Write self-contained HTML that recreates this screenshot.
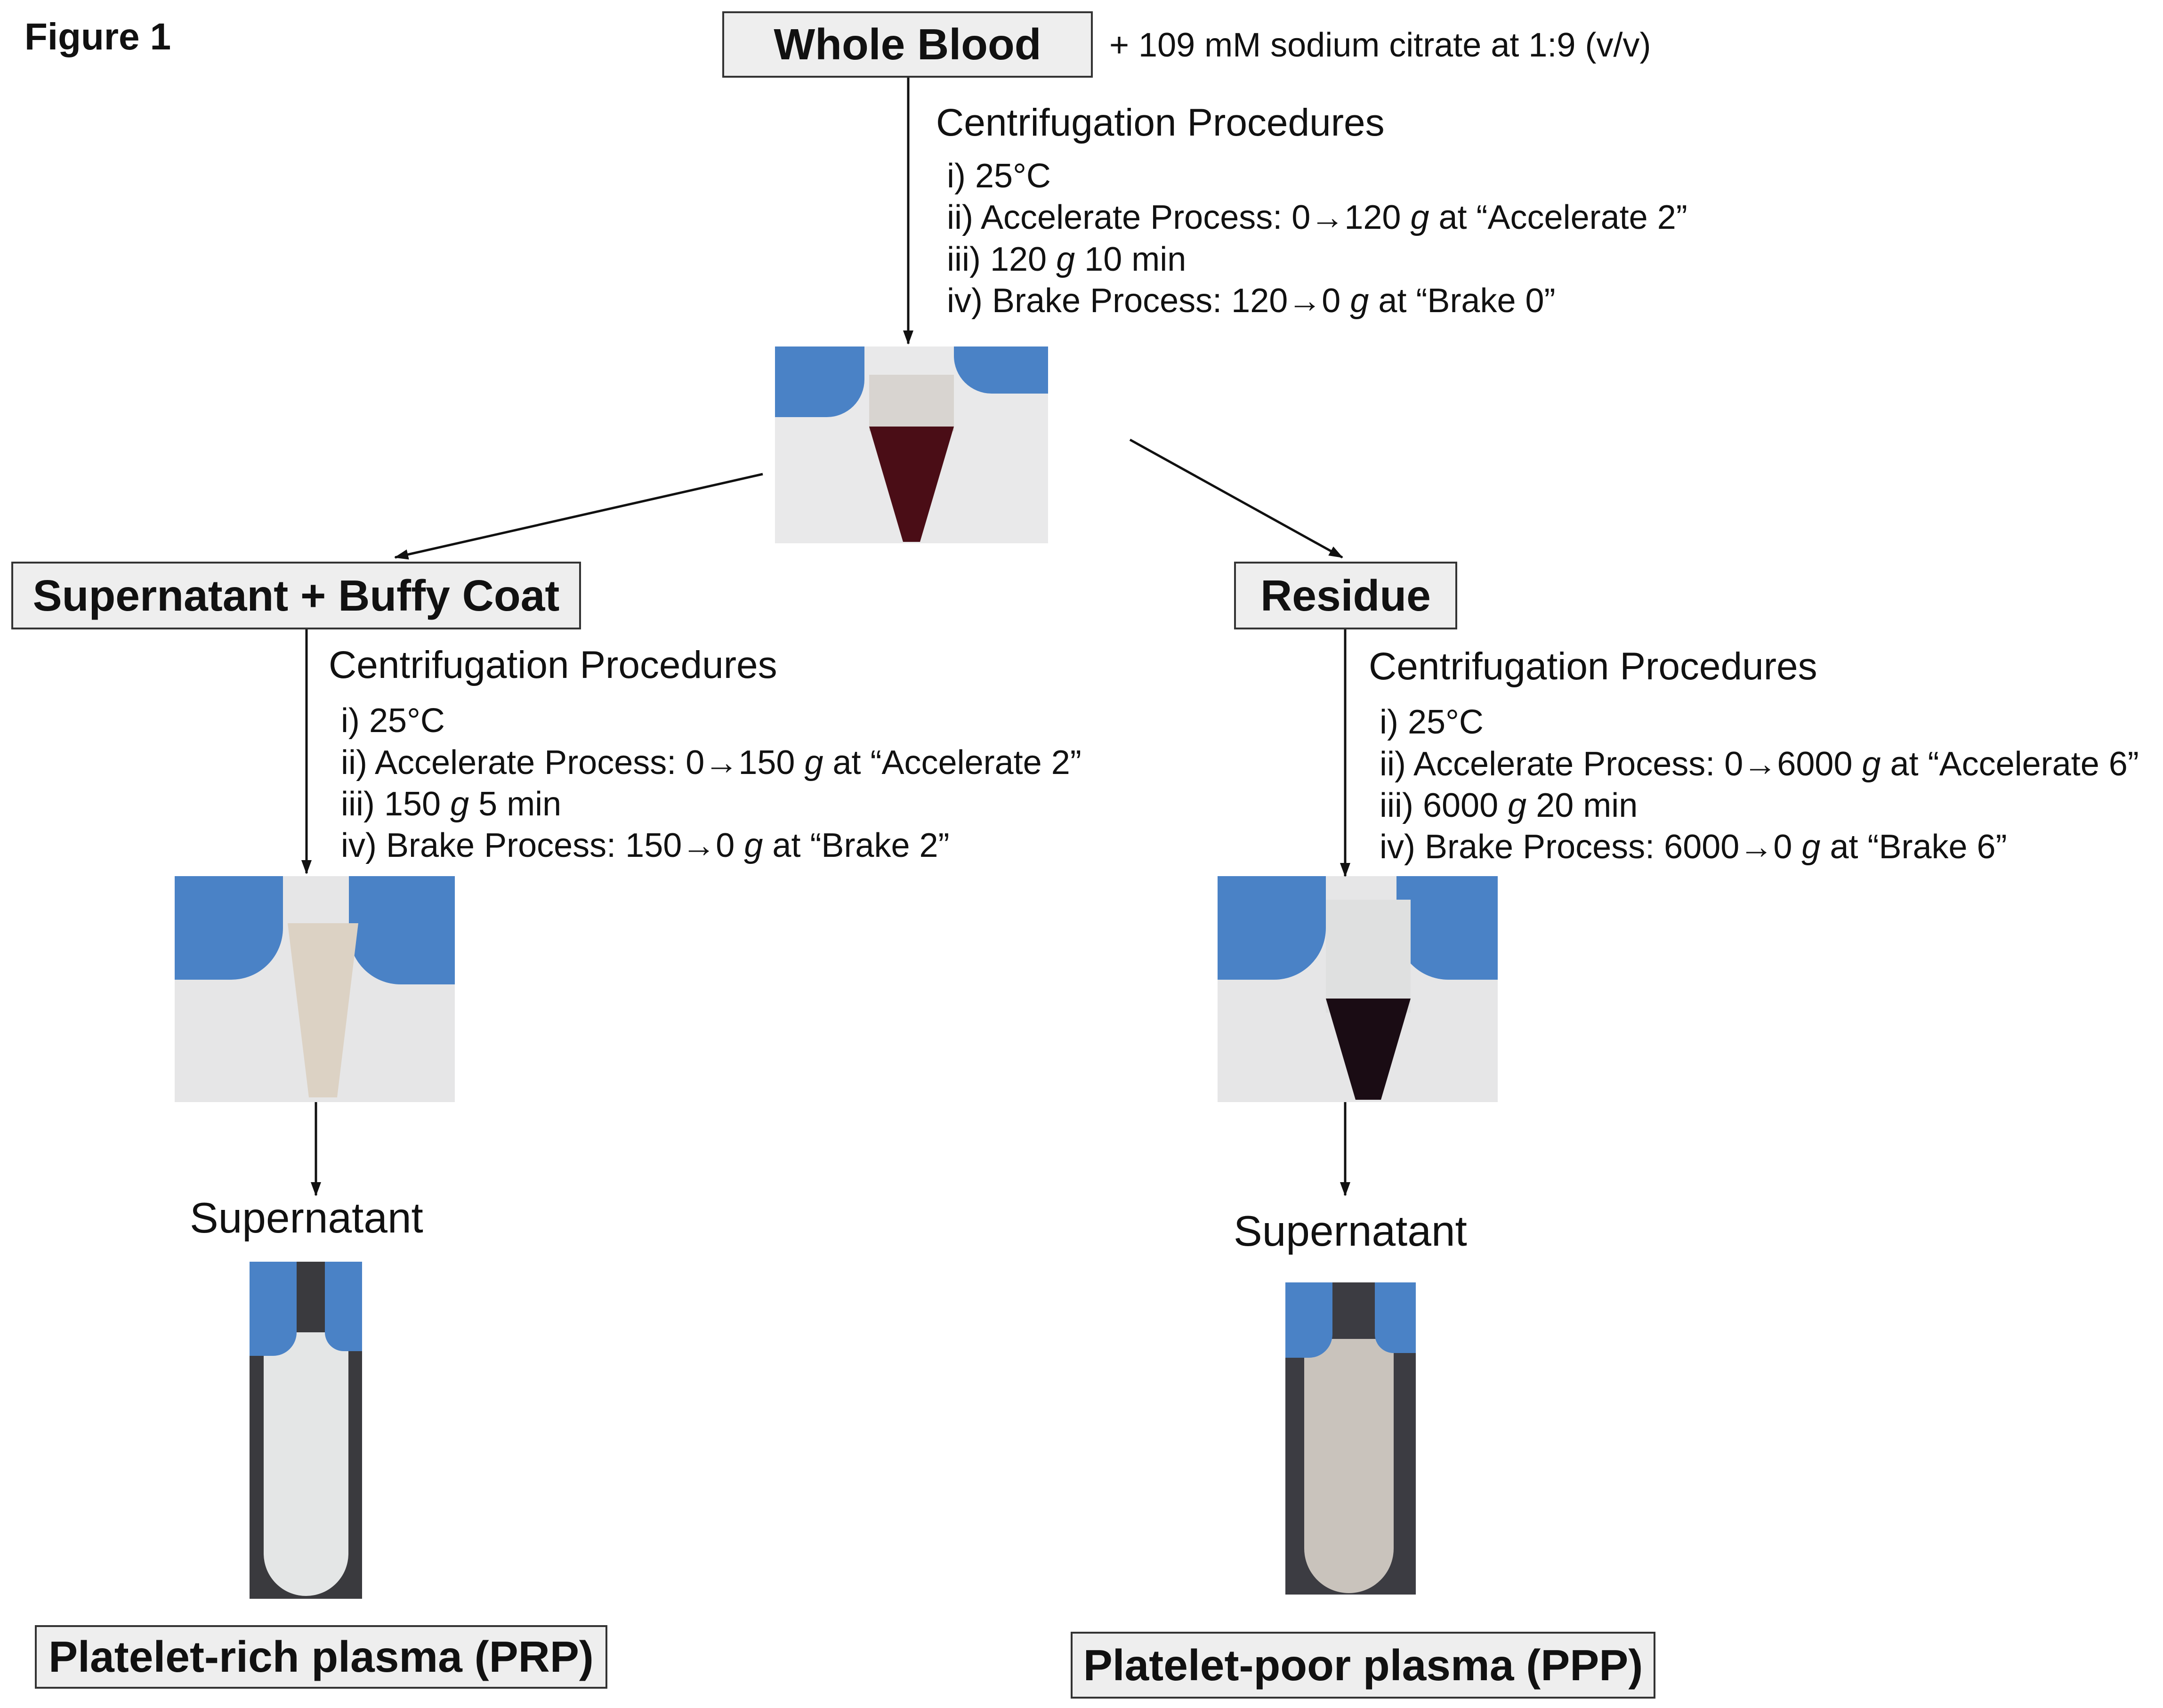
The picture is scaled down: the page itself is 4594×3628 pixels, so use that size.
<!DOCTYPE html>
<html><head><meta charset="utf-8"><style>
body{margin:0;width:4594px;height:3628px;background:#fff;position:relative;overflow:hidden;font-family:"Liberation Sans",sans-serif;color:#111}
.a{position:absolute;white-space:nowrap}
.box{position:absolute;background:#eeeeee;border:4px solid #333;box-sizing:border-box;display:flex;align-items:center;justify-content:center;font-weight:bold;font-size:93px}
.t{font-size:72px;line-height:72px}
.h{font-size:82px;line-height:82px}
.s{font-size:91px;line-height:91px}
.ph{position:absolute;overflow:hidden}
</style></head><body>
<div class="a" style="left:52px;top:32px;font-size:80px;font-weight:bold">Figure 1</div>

<div class="box" style="left:1534px;top:24px;width:787px;height:141px">Whole Blood</div>
<div class="a t" style="left:2356px;top:60px">+ 109 mM sodium citrate at 1:9 (v/v)</div>

<div class="a h" style="left:1988px;top:220px">Centrifugation Procedures</div>
<div class="a t" style="left:2011px;top:338px">i) 25°C</div>
<div class="a t" style="left:2011px;top:426px">ii) Accelerate Process: 0→120 <i>g</i> at “Accelerate 2”</div>
<div class="a t" style="left:2011px;top:515px">iii) 120 <i>g</i> 10 min</div>
<div class="a t" style="left:2011px;top:603px">iv) Brake Process: 120→0 <i>g</i> at “Brake 0”</div>

<div class="box" style="left:24px;top:1193px;width:1210px;height:144px">Supernatant + Buffy Coat</div>
<div class="box" style="left:2621px;top:1193px;width:474px;height:144px">Residue</div>

<div class="a h" style="left:698px;top:1372px">Centrifugation Procedures</div>
<div class="a t" style="left:724px;top:1495px">i) 25°C</div>
<div class="a t" style="left:724px;top:1584px">ii) Accelerate Process: 0→150 <i>g</i> at “Accelerate 2”</div>
<div class="a t" style="left:724px;top:1672px">iii) 150 <i>g</i> 5 min</div>
<div class="a t" style="left:724px;top:1760px">iv) Brake Process: 150→0 <i>g</i> at “Brake 2”</div>

<div class="a h" style="left:2907px;top:1375px">Centrifugation Procedures</div>
<div class="a t" style="left:2930px;top:1498px">i) 25°C</div>
<div class="a t" style="left:2930px;top:1587px">ii) Accelerate Process: 0→6000 <i>g</i> at “Accelerate 6”</div>
<div class="a t" style="left:2930px;top:1675px">iii) 6000 <i>g</i> 20 min</div>
<div class="a t" style="left:2930px;top:1763px">iv) Brake Process: 6000→0 <i>g</i> at “Brake 6”</div>

<div class="a s" style="left:403px;top:2542px">Supernatant</div>
<div class="a s" style="left:2620px;top:2570px">Supernatant</div>

<div class="box" style="left:74px;top:3452px;width:1216px;height:135px">Platelet-rich plasma (PRP)</div>
<div class="box" style="left:2274px;top:3466px;width:1242px;height:142px">Platelet-poor plasma (PPP)</div>

<!-- photos -->
<div class="ph" style="left:1646px;top:736px;width:580px;height:418px;background:#e9e9ea">
 <div class="a" style="left:0;top:0;width:190px;height:150px;background:#4a82c6;border-radius:0 0 80px 0"></div>
 <div class="a" style="left:380px;top:0;width:200px;height:100px;background:#4a82c6;border-radius:0 0 0 80px"></div>
 <div class="a" style="left:200px;top:60px;width:180px;height:120px;background:#d8d4d0"></div>
 <div class="a" style="left:200px;top:170px;width:180px;height:245px;background:#4a0d16;clip-path:polygon(0 0,100% 0,60% 100%,40% 100%)"></div>
</div>
<div class="ph" style="left:371px;top:1861px;width:595px;height:480px;background:#e6e6e7">
 <div class="a" style="left:0;top:0;width:230px;height:220px;background:#4a82c6;border-radius:0 0 110px 0"></div>
 <div class="a" style="left:370px;top:0;width:225px;height:230px;background:#4a82c6;border-radius:0 0 0 110px"></div>
 <div class="a" style="left:240px;top:100px;width:150px;height:370px;background:#dcd2c4;clip-path:polygon(0 0,100% 0,70% 100%,30% 100%)"></div>
</div>
<div class="ph" style="left:2586px;top:1861px;width:595px;height:480px;background:#e6e6e7">
 <div class="a" style="left:0;top:0;width:230px;height:220px;background:#4a82c6;border-radius:0 0 110px 0"></div>
 <div class="a" style="left:380px;top:0;width:215px;height:220px;background:#4a82c6;border-radius:0 0 0 110px"></div>
 <div class="a" style="left:230px;top:50px;width:180px;height:240px;background:#dfe0e0"></div>
 <div class="a" style="left:230px;top:260px;width:180px;height:215px;background:#1a0c14;clip-path:polygon(0 0,100% 0,65% 100%,35% 100%)"></div>
</div>
<div class="ph" style="left:530px;top:2680px;width:239px;height:716px;background:#3a3a3e">
 <div class="a" style="left:30px;top:150px;width:180px;height:560px;background:#e4e6e6;border-radius:0 0 90px 90px"></div>
 <div class="a" style="left:0;top:0;width:100px;height:200px;background:#4a82c6;border-radius:0 0 50px 0"></div>
 <div class="a" style="left:160px;top:0;width:79px;height:190px;background:#4a82c6;border-radius:0 0 0 40px"></div>
</div>
<div class="ph" style="left:2730px;top:2724px;width:277px;height:663px;background:#3c3c42">
 <div class="a" style="left:40px;top:120px;width:190px;height:540px;background:#c9c3bc;border-radius:0 0 95px 95px"></div>
 <div class="a" style="left:0;top:0;width:100px;height:160px;background:#4a82c6;border-radius:0 0 50px 0"></div>
 <div class="a" style="left:190px;top:0;width:87px;height:150px;background:#4a82c6;border-radius:0 0 0 40px"></div>
</div>

<svg class="a" style="left:0;top:0" width="4594" height="3628">
<defs>
<marker id="M" markerWidth="30" markerHeight="30" refX="28" refY="15" orient="auto" markerUnits="userSpaceOnUse"><path d="M0,4 L30,15 L0,26 z" fill="#111"/></marker></defs>
<g stroke="#111" stroke-width="5" fill="none">
<line x1="1929" y1="165" x2="1929" y2="730" marker-end="url(#M)"/>
<line x1="1620" y1="1007" x2="839" y2="1184" marker-end="url(#M)"/>
<line x1="2400" y1="934" x2="2851" y2="1184" marker-end="url(#M)"/>
<line x1="651" y1="1337" x2="651" y2="1855" marker-end="url(#M)"/>
<line x1="2857" y1="1337" x2="2857" y2="1861" marker-end="url(#M)"/>
<line x1="671" y1="2341" x2="671" y2="2539" marker-end="url(#M)"/>
<line x1="2857" y1="2341" x2="2857" y2="2539" marker-end="url(#M)"/>
</g></svg>
</body></html>
